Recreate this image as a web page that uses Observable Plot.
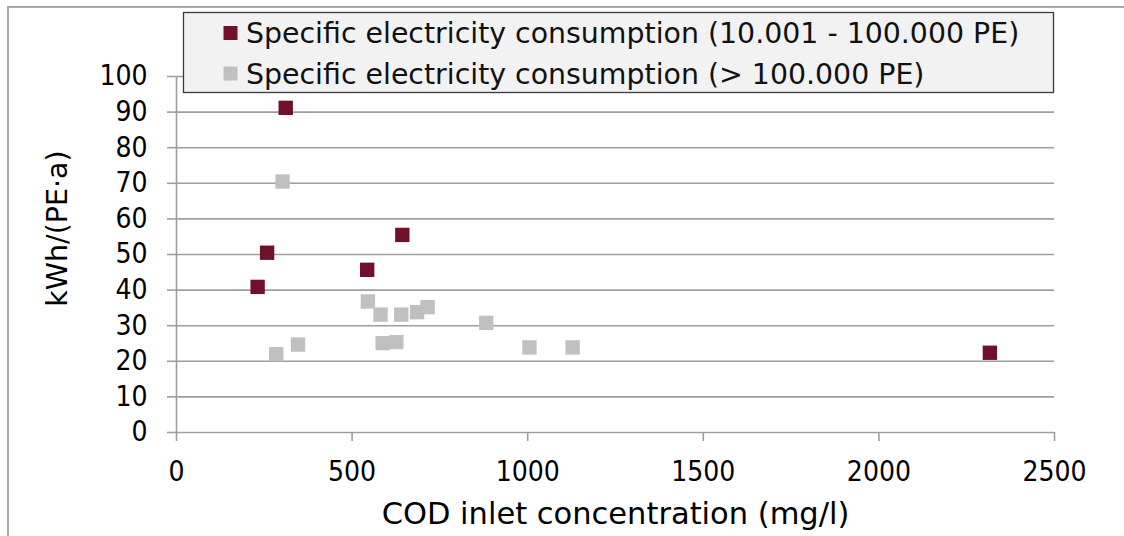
<!DOCTYPE html>
<html>
<head>
<meta charset="utf-8">
<script src="https://cdn.jsdelivr.net/npm/d3@7"></script>
<script src="https://cdn.jsdelivr.net/npm/@observablehq/plot@0.6"></script>
<style>
  html, body { margin: 0; padding: 0; background: #fff; }
  #wrap { position: relative; width: 1124px; height: 536px; overflow: hidden; font-family: "DejaVu Sans", sans-serif; }
  #frame { position: absolute; left: 7px; top: 6px; width: 1200px; height: 600px;
           border-left: 2px solid #a9a9a9; border-top: 2px solid #a9a9a9; box-sizing: border-box; }
  #chart { position: absolute; left: 0; top: 0; }
  #legend { position: absolute; left: 0; top: 0; }
</style>
</head>
<body>
<div id="wrap">
  <div id="frame"></div>
  <div id="chart"></div>
  <svg id="legend" width="1124" height="100"></svg>
</div>
<script>
// Plants with 10.001 - 100.000 PE
const midCOD = [231, 258, 311, 543, 643, 2316];
const midKWh = [40.9, 50.5, 91.2, 45.7, 55.5, 22.4];

// Plants with > 100.000 PE
const largeCOD = [284, 302, 346, 545, 581, 587, 626, 640, 685, 715, 882, 1005, 1128];
const largeKWh = [22.0, 70.5, 24.7, 36.8, 33.1, 25.1, 25.4, 33.1, 33.8, 35.2, 30.8, 23.9, 23.9];

const seriesNames = [
  "Specific electricity consumption (10.001 - 100.000 PE)",
  "Specific electricity consumption (> 100.000 PE)"
];
const seriesColors = ["#70102b", "#c0c0c0"];

const xTicks = [0, 500, 1000, 1500, 2000, 2500];
const yTicks = [0, 10, 20, 30, 40, 50, 60, 70, 80, 90, 100];
const xTitle = "COD inlet concentration (mg/l)";
const yTitle = "kWh/(PE·a)";

const midRows = midCOD.map((c, i) => ({cod: c, kwh: midKWh[i]}));
const largeRows = largeCOD.map((c, i) => ({cod: c, kwh: largeKWh[i]}));

const gridColor = "#9e9e9e";
const digitFont = "'DejaVu Sans Condensed', 'DejaVu Sans', sans-serif";

const chart = Plot.plot({
  width: 1124,
  height: 536,
  marginLeft: 176,
  marginRight: 70,
  marginTop: 76,
  marginBottom: 104,
  style: {background: "transparent", color: "#000", fontFamily: "DejaVu Sans, sans-serif", overflow: "visible"},
  x: {domain: [0, 2500], label: null},
  y: {domain: [0, 100], label: null},
  marks: [
    Plot.gridY(yTicks, {stroke: gridColor, strokeOpacity: 1, strokeWidth: 1.6}),
    Plot.ruleX([0], {y1: 0, y2: 100, stroke: gridColor, strokeWidth: 1.6}),
    Plot.axisY(yTicks, {
      tickSize: 9, tickPadding: 20, stroke: gridColor, strokeWidth: 1.6,
      fontSize: 28, fontFamily: digitFont, label: null, tickFormat: d => String(d)
    }),
    Plot.axisX(xTicks, {
      tickSize: 9, tickPadding: 20, stroke: gridColor, strokeWidth: 1.6,
      fontSize: 28, fontFamily: digitFont, label: null, tickFormat: d => String(d)
    }),
    Plot.dot(largeRows, {x: "cod", y: "kwh", symbol: "square", r: 8.1, fill: seriesColors[1], stroke: null}),
    Plot.dot(midRows, {x: "cod", y: "kwh", symbol: "square", r: 8.1, fill: seriesColors[0], stroke: null}),
    Plot.text([xTitle], {frameAnchor: "bottom", lineAnchor: "middle", dy: 82, fontSize: 30.5, fill: "#000"}),
    Plot.text([yTitle], {
      frameAnchor: "left", textAnchor: "middle", lineAnchor: "middle",
      dx: -119, dy: -26, rotate: -90, fontSize: 28.5, fill: "#000"
    })
  ]
});
document.getElementById("chart").appendChild(chart);

// Legend box drawn over the top of the plot area
const lg = d3.select("#legend");
lg.append("rect")
  .attr("x", 183.5).attr("y", 12.5).attr("width", 870).attr("height", 80)
  .attr("fill", "#f2f2f2").attr("stroke", "#3a3a3a").attr("stroke-width", 1.3);
const rowY = [33, 73.5];
seriesNames.forEach((name, i) => {
  lg.append("rect")
    .attr("x", 223.5).attr("y", rowY[i] - 7).attr("width", 14).attr("height", 14)
    .attr("fill", seriesColors[i]);
  lg.append("text")
    .attr("x", 246).attr("y", rowY[i] + 10)
    .attr("font-family", "DejaVu Sans, sans-serif").attr("font-size", 28.4)
    .attr("fill", "#111")
    .text(name);
});
</script>
</body>
</html>
